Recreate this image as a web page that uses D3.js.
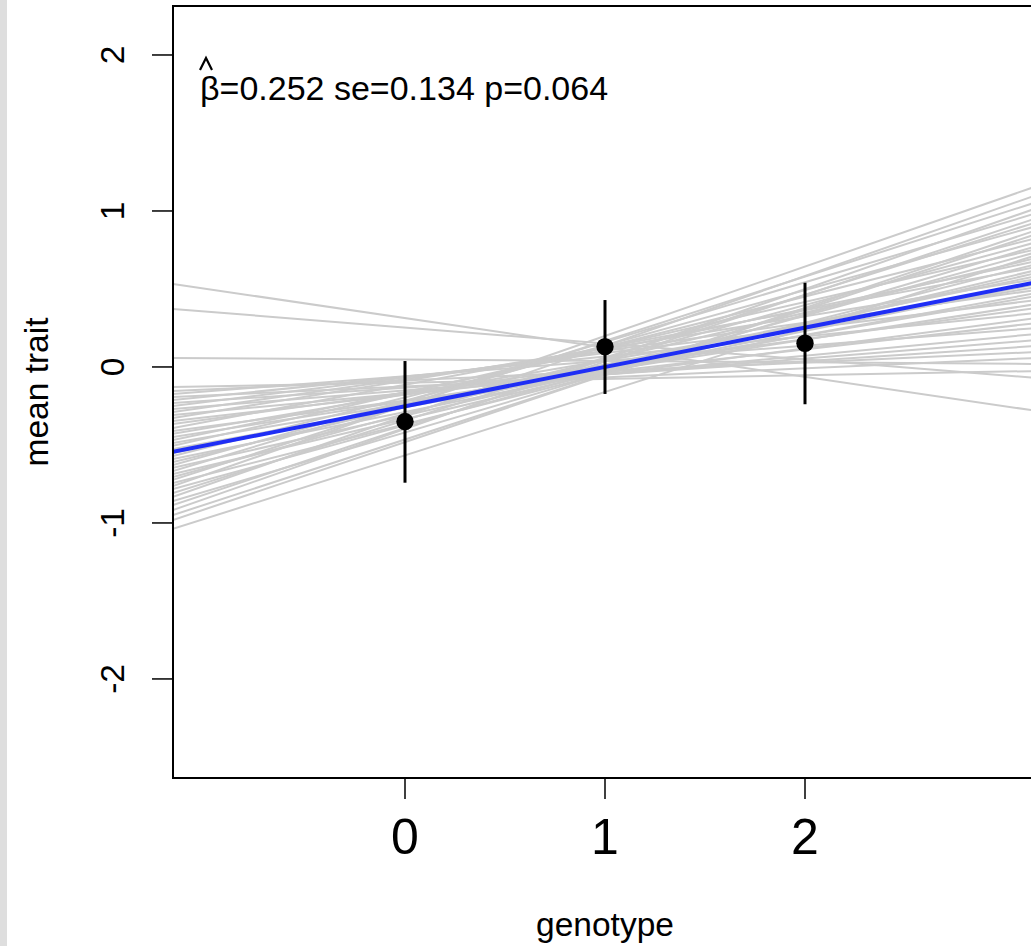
<!DOCTYPE html>
<html lang="en">
<head>
    <meta charset="utf-8">
    <title>mean trait by genotype</title>
    <style>
        body {
            margin: 0;
            background: #ffffff;
            font-family: "Liberation Sans", Arial, sans-serif;
        }
        .boot {
            fill: none;
            stroke: #cbcbcb;
            stroke-width: 2px;
        }
        .fit {
            fill: none;
            stroke: #1f2ef5;
            stroke-width: 4px;
        }
    </style>
    <script src="https://cdn.jsdelivr.net/npm/d3@7"></script>
</head>
<body>
<div id="chart"></div>
<script>
// group means with their intervals
var genotypes = [0, 1, 2];
var means = [-0.350, 0.130, 0.152];
var upper = [0.038, 0.429, 0.540];
var lower = [-0.742, -0.173, -0.239];

// fitted line
var fitIntercept = -0.252;
var fitSlope = 0.252;
var statText = "=0.252 se=0.134 p=0.064";

// resampled fits: value at left edge and at right edge of the plot
var bootLeft = [0.532, 0.372, 0.058, -0.128, -0.154, -0.173, -0.192, -0.212, -0.231, -0.250,
    -0.269, -0.288, -0.308, -0.327, -0.346, -0.365, -0.391, -0.410, -0.429, -0.449,
    -0.468, -0.487, -0.506, -0.526, -0.551, -0.571, -0.590, -0.609, -0.628, -0.647,
    -0.667, -0.686, -0.705, -0.724, -0.744, -0.763, -0.782, -0.808, -0.833, -0.859,
    -0.885, -0.917, -0.949, -0.981, -1.038];
var bootRight = [-0.282, -0.071, 0.019, -0.026, 0.096, 0.250, 0.058, 0.346, 0.135, 0.429,
    0.173, 0.494, 0.212, 0.564, 0.282, 0.378, 0.641, 0.314, 0.513, 0.404,
    0.679, 0.455, 0.756, 0.474, 0.583, 0.827, 0.532, 0.699, 0.904, 0.603,
    0.987, 0.622, 0.801, 1.058, 0.660, 1.160, 0.737, 0.929, 1.103, 0.776,
    0.955, 1.019, 0.853, 0.878, 0.718];

var yTicks = [-2, -1, 0, 1, 2];
var xTicks = [0, 1, 2];

var width = 1031, height = 946;
var plot = { left: 173, right: 1037, top: 6, bottom: 778 };

var x = d3.scaleLinear().domain([-1.16, 3.16]).range([plot.left, plot.right]);
var y = d3.scaleLinear().domain([-2.635, 2.314]).range([plot.bottom, plot.top]);

var svg = d3.select("#chart").append("svg")
    .attr("width", width)
    .attr("height", height);

// grey strip on the far left
svg.append("rect")
    .attr("x", 0).attr("y", 0)
    .attr("width", 7).attr("height", height)
    .attr("fill", "#dedede");

svg.append("clipPath").attr("id", "clip")
    .append("rect")
    .attr("x", plot.left).attr("y", plot.top)
    .attr("width", plot.right - plot.left)
    .attr("height", plot.bottom - plot.top);

var lines = svg.append("g").attr("clip-path", "url(#clip)");
var x0 = x.domain()[0], x1 = x.domain()[1];

var line = d3.line()
    .x(function(d) { return x(d[0]); })
    .y(function(d) { return y(d[1]); });

// resampled lines
lines.selectAll(".boot")
    .data(bootLeft.map(function(v, i) { return [[x0, v], [x1, bootRight[i]]]; }))
    .enter().append("path")
    .attr("class", "boot")
    .attr("d", line);

// fitted line
lines.append("path")
    .datum([[x0, fitIntercept + fitSlope * x0], [x1, fitIntercept + fitSlope * x1]])
    .attr("class", "fit")
    .attr("d", line);

// error bars and means
svg.selectAll(".bar")
    .data(genotypes)
    .enter().append("line")
    .attr("class", "bar")
    .attr("x1", function(d) { return x(d); })
    .attr("x2", function(d) { return x(d); })
    .attr("y1", function(d, i) { return y(upper[i]); })
    .attr("y2", function(d, i) { return y(lower[i]); })
    .attr("stroke", "#000")
    .attr("stroke-width", 3);

svg.selectAll(".pt")
    .data(genotypes)
    .enter().append("circle")
    .attr("class", "pt")
    .attr("cx", function(d) { return x(d); })
    .attr("cy", function(d, i) { return y(means[i]); })
    .attr("r", 8.7)
    .attr("fill", "#000");

// box
svg.append("rect")
    .attr("x", plot.left).attr("y", plot.top)
    .attr("width", plot.right - plot.left)
    .attr("height", plot.bottom - plot.top)
    .attr("fill", "none")
    .attr("stroke", "#000")
    .attr("stroke-width", 2);

// y axis
svg.selectAll(".ytick")
    .data(yTicks)
    .enter().append("line")
    .attr("x1", plot.left - 21).attr("x2", plot.left)
    .attr("y1", function(d) { return y(d); })
    .attr("y2", function(d) { return y(d); })
    .attr("stroke", "#000")
    .attr("stroke-width", 1.5);

svg.selectAll(".ylab")
    .data(yTicks)
    .enter().append("text")
    .attr("transform", function(d) { return "translate(124," + y(d) + ") rotate(-90)"; })
    .attr("text-anchor", "middle")
    .style("font-size", "33.5px")
    .text(function(d) { return d; });

svg.append("text")
    .attr("transform", "translate(48," + ((plot.top + plot.bottom) / 2) + ") rotate(-90)")
    .attr("text-anchor", "middle")
    .style("font-size", "33.5px")
    .text("mean trait");

// x axis
svg.selectAll(".xtick")
    .data(xTicks)
    .enter().append("line")
    .attr("x1", function(d) { return x(d); })
    .attr("x2", function(d) { return x(d); })
    .attr("y1", plot.bottom).attr("y2", plot.bottom + 21)
    .attr("stroke", "#000")
    .attr("stroke-width", 1.5);

svg.selectAll(".xlab")
    .data(xTicks)
    .enter().append("text")
    .attr("x", function(d) { return x(d); })
    .attr("y", 854)
    .attr("text-anchor", "middle")
    .style("font-size", "50px")
    .text(function(d) { return d; });

svg.append("text")
    .attr("x", (plot.left + plot.right) / 2)
    .attr("y", 936)
    .attr("text-anchor", "middle")
    .style("font-size", "33.5px")
    .text("genotype");

// beta hat annotation
var ann = svg.append("text")
    .attr("x", 200)
    .attr("y", 100)
    .style("font-size", "34px");
ann.append("tspan").text("β");
ann.append("tspan").text(statText);

// the hat over beta
svg.append("path")
    .attr("d", "M200,70L206,58L212,70")
    .attr("fill", "none")
    .attr("stroke", "#000")
    .attr("stroke-width", 2.2);
</script>
</body>
</html>
